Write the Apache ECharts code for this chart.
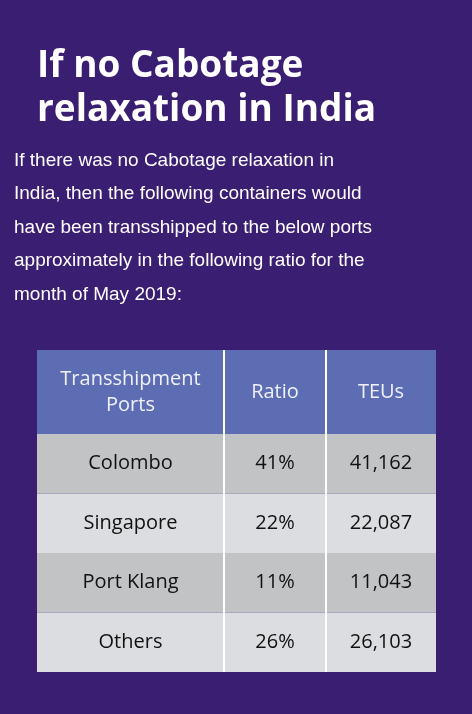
<!DOCTYPE html>
<html>
<head>
<meta charset="utf-8">
<script src="https://cdn.jsdelivr.net/npm/echarts@6/dist/echarts.min.js"></script>
<style>
html, body { margin: 0; padding: 0; background: #3a1e72; }
#chart { width: 472px; height: 714px; }
</style>
</head>
<body>
<div id="chart"></div>
<script>
let titleLines = ['If no Cabotage', 'relaxation in India'];
let introLines = [
    'If there was no Cabotage relaxation in',
    'India, then the following containers would',
    'have been transshipped to the below ports',
    'approximately in the following ratio for the',
    'month of May 2019:'
];
let headers = ['Transshipment\nPorts', 'Ratio', 'TEUs'];
let ports = ['Colombo', 'Singapore', 'Port Klang', 'Others'];
let ratios = ['41%', '22%', '11%', '26%'];
let teus = ['41,162', '22,087', '11,043', '26,103'];

let myChart = echarts.init(document.getElementById('chart'));

// 表格布局
let colX = [37, 224, 326, 436];
let headTop = 350, headBottom = 434;
let rowH = 59.5;
let rowColors = ['#c2c3c5', '#dcdde0'];

let elements = [];
titleLines.forEach(function (t, i) {
    elements.push({
        type: 'text', left: 37, top: 48 + i * 44,
        style: { text: t, fill: '#fff', font: 'bold 37px "Liberation Sans Narrow", "Open Sans", sans-serif' }
    });
});
introLines.forEach(function (t, i) {
    elements.push({
        type: 'text', left: 14, top: 151 + i * 33.5,
        style: { text: t, fill: '#fff', font: '19px "Liberation Sans", Arial, sans-serif' }
    });
});

for (let c = 0; c < 3; c++) {
    elements.push({
        type: 'rect',
        shape: { x: colX[c], y: headTop, width: colX[c + 1] - colX[c], height: headBottom - headTop },
        style: { fill: '#5d6db4' }
    });
    elements.push({
        type: 'text',
        x: (colX[c] + colX[c + 1]) / 2, y: (headTop + headBottom) / 2,
        style: {
            text: headers[c], fill: '#f0f0f8', align: 'center', verticalAlign: 'middle',
            font: '20px "Open Sans", sans-serif', lineHeight: 26
        }
    });
}

ports.forEach(function (p, r) {
    let y = headBottom + r * rowH;
    let vals = [p, ratios[r], teus[r]];
    elements.push({
        type: 'rect',
        shape: { x: colX[0], y: y, width: colX[3] - colX[0], height: rowH },
        style: { fill: rowColors[r % 2] }
    });
    for (let c = 0; c < 3; c++) {
        elements.push({
            type: 'text',
            x: (colX[c] + colX[c + 1]) / 2, y: y + rowH / 2,
            style: {
                text: vals[c], fill: '#111', align: 'center', verticalAlign: 'middle',
                font: '20px "Open Sans", sans-serif'
            }
        });
    }
});

// 列分隔线
[colX[1], colX[2]].forEach(function (x) {
    elements.push({
        type: 'line',
        shape: { x1: x, y1: headTop, x2: x, y2: headBottom + rowH * ports.length },
        style: { stroke: '#fff', lineWidth: 2 }
    });
});

myChart.setOption({
    backgroundColor: '#3a1e72',
    graphic: elements
});
</script>
</body>
</html>
